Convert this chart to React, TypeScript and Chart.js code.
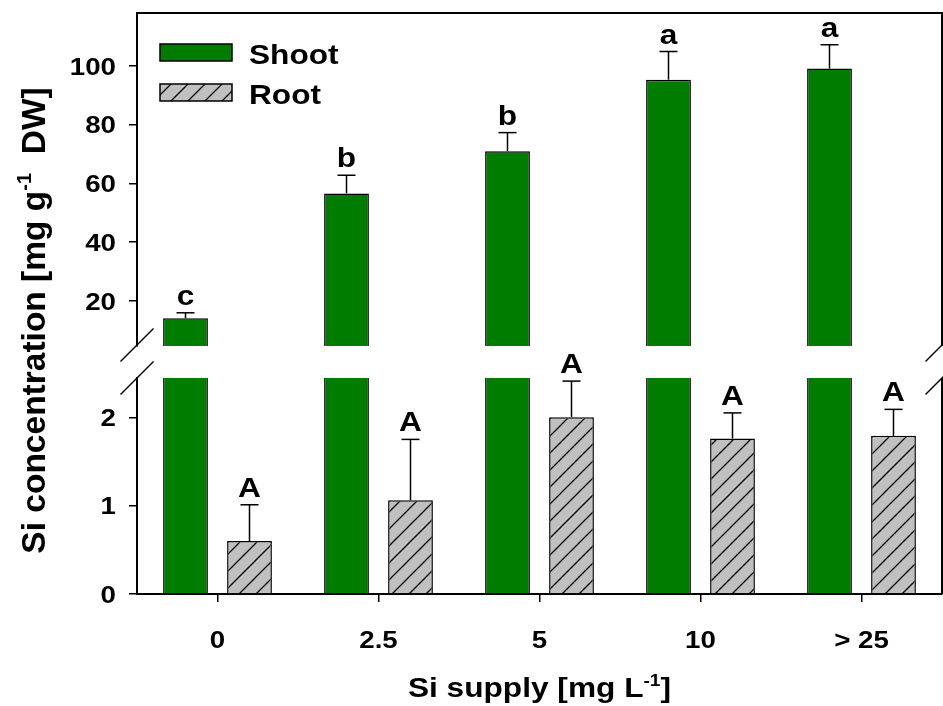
import React, { useEffect, useRef } from 'react';
import { Chart, registerables } from 'chart.js';

Chart.register(...registerables);

// Si concentration in shoots and roots at each Si supply level (mean + SE)
const categories = ['0', '2.5', '5', '10', '> 25'];
const seriesNames = ['Shoot', 'Root'];
const shootMean = [14.1, 56.6, 71.0, 95.3, 99.1];
const shootSE = [1.9, 6.2, 6.3, 9.6, 8.1];
const rootMean = [0.6, 1.06, 2.0, 1.76, 1.79];
const rootSE = [0.41, 0.69, 0.41, 0.29, 0.3];
const shootLetters = ['c', 'b', 'b', 'a', 'a'];
const rootLetters = ['A', 'A', 'A', 'A', 'A'];
const upperTicks = [20, 40, 60, 80, 100];
const lowerTicks = [0, 1, 2];

const FONT = "'Liberation Sans', Arial, Helvetica, sans-serif";
const SHOOT_COLOR = '#007c00';
const ROOT_COLOR = '#c0c0c0';
const SX = 1.13; // horizontal widening of horizontal lettering

type Run = { text: string; size: number; rise?: number };

function drawRuns(
  ctx: CanvasRenderingContext2D,
  runs: Run[],
  x: number,
  y: number,
  align: 'left' | 'center' | 'right',
  rotate = false
) {
  ctx.save();
  ctx.translate(x, y);
  if (rotate) {
    ctx.rotate(-Math.PI / 2);
  } else {
    ctx.scale(SX, 1);
  }
  ctx.textAlign = 'left';
  ctx.textBaseline = 'alphabetic';
  let total = 0;
  const widths = runs.map((r) => {
    ctx.font = `bold ${r.size}px ${FONT}`;
    const w = ctx.measureText(r.text).width;
    total += w;
    return w;
  });
  let cx = align === 'center' ? -total / 2 : align === 'right' ? -total : 0;
  runs.forEach((r, i) => {
    ctx.font = `bold ${r.size}px ${FONT}`;
    ctx.fillText(r.text, cx, -(r.rise || 0));
    cx += widths[i];
  });
  ctx.restore();
}

function makeHatch(): CanvasPattern | string {
  const size = 17;
  const c = document.createElement('canvas');
  c.width = size;
  c.height = size;
  const g = c.getContext('2d');
  if (!g) return ROOT_COLOR;
  g.fillStyle = ROOT_COLOR;
  g.fillRect(0, 0, size, size);
  g.strokeStyle = '#000';
  g.lineWidth = 1.3;
  g.beginPath();
  g.moveTo(-2, size + 2);
  g.lineTo(size + 2, -2);
  g.moveTo(-2, 2);
  g.lineTo(2, -2);
  g.moveTo(size - 2, size + 2);
  g.lineTo(size + 2, size - 2);
  g.stroke();
  return g.createPattern(c, 'repeat') || ROOT_COLOR;
}

function line(ctx: CanvasRenderingContext2D, x1: number, y1: number, x2: number, y2: number) {
  ctx.beginPath();
  ctx.moveTo(x1, y1);
  ctx.lineTo(x2, y2);
  ctx.stroke();
}

function decorPlugin(hatch: CanvasPattern | string) {
  return {
    id: 'decor',
    afterDraw(chart: any) {
      const ctx: CanvasRenderingContext2D = chart.ctx;
      const area = chart.chartArea;
      const xs = chart.scales.x;
      const yt = chart.scales.yTop;
      const yb = chart.scales.yBottom;
      ctx.save();
      ctx.strokeStyle = '#000';
      ctx.fillStyle = '#000';

      // frame: top edge and right edge of both panels
      ctx.lineWidth = 2;
      line(ctx, area.left - 1, yt.top, area.right + 1, yt.top);
      line(ctx, area.right, yt.top, area.right, yt.bottom);
      line(ctx, area.right, yb.top, area.right, yb.bottom);

      // axis break marks
      ctx.lineWidth = 1.5;
      for (const cx of [area.left, area.right]) {
        for (const cy of [yt.bottom - 1, yb.top]) {
          line(ctx, cx - 16.5, cy + 16.5, cx + 16.5, cy - 16.5);
        }
      }

      // error bars and significance letters
      const shootMeta = chart.getDatasetMeta(0);
      const rootMeta = chart.getDatasetMeta(2);
      ctx.lineWidth = 1.5;
      shootMean.forEach((v, i) => {
        const x = shootMeta.data[i].x;
        const y0 = yt.getPixelForValue(v);
        const y1 = yt.getPixelForValue(v + shootSE[i]);
        line(ctx, x, y0, x, y1);
        line(ctx, x - 9, y1, x + 9, y1);
        drawRuns(ctx, [{ text: shootLetters[i], size: 28 }], x, y1 - 8, 'center');
      });
      rootMean.forEach((v, i) => {
        const x = rootMeta.data[i].x;
        const y0 = yb.getPixelForValue(v);
        const y1 = yb.getPixelForValue(v + rootSE[i]);
        line(ctx, x, y0, x, y1);
        line(ctx, x - 9, y1, x + 9, y1);
        drawRuns(ctx, [{ text: rootLetters[i], size: 28 }], x, y1 - 8, 'center');
      });

      // tick labels
      const tickRight = area.left - 21;
      upperTicks.forEach((v) => {
        drawRuns(ctx, [{ text: String(v), size: 24.5 }], tickRight, yt.getPixelForValue(v) + 8.8, 'right');
      });
      lowerTicks.forEach((v) => {
        drawRuns(ctx, [{ text: String(v), size: 24.5 }], tickRight, yb.getPixelForValue(v) + 8.8, 'right');
      });
      categories.forEach((c, i) => {
        drawRuns(ctx, [{ text: c, size: 24.5 }], xs.getPixelForValue(i), area.bottom + 54, 'center');
      });

      // axis titles
      drawRuns(
        ctx,
        [
          { text: 'Si supply [mg L', size: 28 },
          { text: '-1', size: 17, rise: 11 },
          { text: ']', size: 28 },
        ],
        (area.left + area.right) / 2,
        697,
        'center'
      );
      drawRuns(
        ctx,
        [
          { text: 'Si concentration [mg g', size: 33.5 },
          { text: '-1', size: 20, rise: 14 },
          { text: '  DW]', size: 33.5 },
        ],
        45,
        (area.top + area.bottom) / 2 + 17,
        'center',
        true
      );

      // legend
      const legendFills: (string | CanvasPattern)[] = [SHOOT_COLOR, hatch];
      seriesNames.forEach((name, k) => {
        const top = 44 + k * 40;
        ctx.fillStyle = legendFills[k];
        ctx.fillRect(160, top, 72, 17);
        ctx.lineWidth = 1.5;
        ctx.strokeRect(160, top, 72, 17);
        ctx.fillStyle = '#000';
        drawRuns(ctx, [{ text: name, size: 28 }], 249, top + 19.5, 'left');
      });
      ctx.restore();
    },
  };
}

const axisGrid = {
  display: true,
  drawOnChartArea: false,
  drawTicks: true,
  tickLength: 8,
  color: '#000',
  lineWidth: 1.5,
};
const axisBorder = { display: true, color: '#000', width: 2 };

export default function App() {
  const ref = useRef<HTMLCanvasElement>(null);

  useEffect(() => {
    const canvas = ref.current;
    if (!canvas) return;
    const hatch = makeHatch();
    const barStyle = {
      borderColor: '#000',
      borderWidth: 1.5,
      borderSkipped: 'start' as const,
      categoryPercentage: 0.795,
      barPercentage: 0.7,
    };
    const chart = new Chart(canvas, {
      type: 'bar',
      data: {
        labels: categories,
        datasets: [
          { ...barStyle, label: seriesNames[0], data: shootMean, yAxisID: 'yTop', stack: 'shoot', backgroundColor: SHOOT_COLOR },
          { ...barStyle, label: seriesNames[0], data: shootMean, yAxisID: 'yBottom', stack: 'shoot', backgroundColor: SHOOT_COLOR },
          { ...barStyle, label: seriesNames[1], data: rootMean, yAxisID: 'yBottom', stack: 'root', backgroundColor: hatch as any },
        ],
      },
      options: {
        responsive: false,
        animation: false,
        events: [],
        layout: { padding: { left: 0, right: 1, top: 13, bottom: 0 } },
        plugins: {
          legend: { display: false },
          tooltip: { enabled: false },
          title: { display: false },
        },
        scales: {
          x: {
            type: 'category',
            position: 'bottom',
            offset: true,
            grid: { ...axisGrid, offset: false },
            border: axisBorder,
            ticks: { display: false },
            afterFit: (s: any) => {
              s.height = 112;
            },
          },
          yTop: {
            type: 'linear',
            position: 'left',
            stack: 'panels',
            stackWeight: 333,
            weight: 3,
            min: 4.7,
            max: 118,
            stacked: false,
            grid: axisGrid,
            border: axisBorder,
            ticks: { display: false },
            afterBuildTicks: (s: any) => {
              s.ticks = upperTicks.map((v) => ({ value: v }));
            },
            afterFit: (s: any) => {
              s.width = 137;
            },
          },
          yGap: {
            type: 'linear',
            position: 'left',
            stack: 'panels',
            stackWeight: 32,
            weight: 2,
            display: false,
          },
          yBottom: {
            type: 'linear',
            position: 'left',
            stack: 'panels',
            stackWeight: 216,
            weight: 1,
            min: 0,
            max: 2.445,
            stacked: false,
            grid: axisGrid,
            border: axisBorder,
            ticks: { display: false },
            afterBuildTicks: (s: any) => {
              s.ticks = lowerTicks.map((v) => ({ value: v }));
            },
            afterFit: (s: any) => {
              s.width = 137;
            },
          },
        } as any,
      },
      plugins: [decorPlugin(hatch)],
    });
    return () => chart.destroy();
  }, []);

  return (
    <div style={{ position: 'fixed', left: 0, top: 0, width: 943, height: 706, background: '#fff' }}>
      <canvas ref={ref} width={943} height={706} style={{ display: 'block' }} />
    </div>
  );
}
